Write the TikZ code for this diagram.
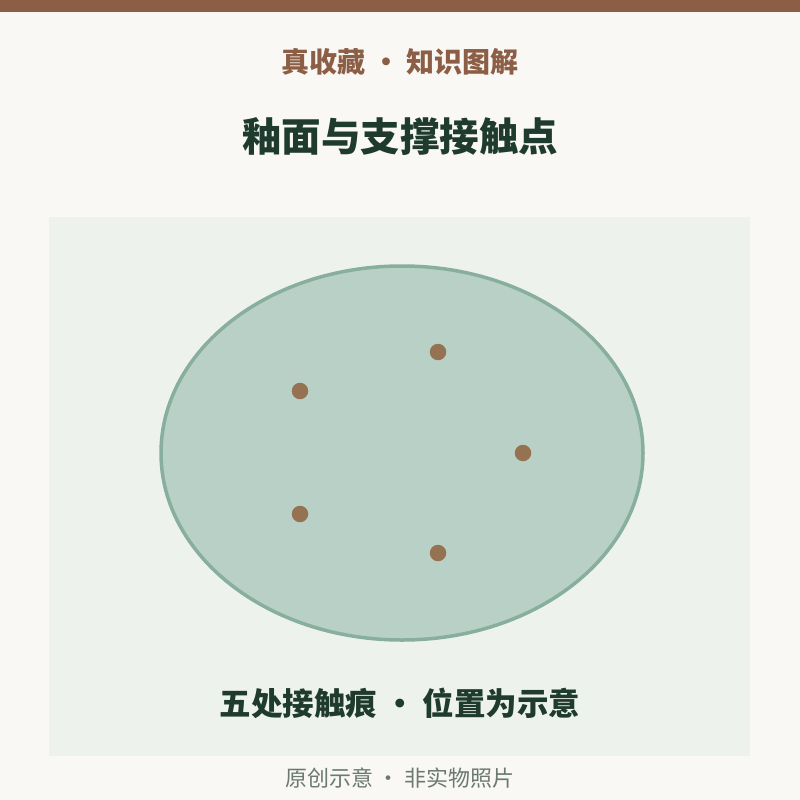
\documentclass[tikz,border=0pt]{standalone}
\usepackage{fontspec}
\newfontfamily\cjk{Noto Sans CJK SC}
\definecolor{bg}{HTML}{F9F8F4}
\definecolor{topbar}{HTML}{8B5E45}
\definecolor{panel}{HTML}{EDF2EC}
\definecolor{glazefill}{HTML}{B9D0C6}
\definecolor{glazeline}{HTML}{88AE9F}
\definecolor{dotc}{HTML}{957251}
\definecolor{darkgreen}{HTML}{1F3A2E}
\definecolor{brownt}{HTML}{8B5E45}
\definecolor{greyt}{HTML}{6B7A70}
\tikzset{
  contact/.style={circle,fill=dotc,inner sep=0pt,minimum size=16.5pt},
  txt/.style={font=\cjk,inner sep=0pt,anchor=center}
}
\begin{document}
\begin{tikzpicture}[x=1pt,y=-1pt]
\fill[bg] (0,0) rectangle (800,800);
\useasboundingbox (0,0) rectangle (800,800);
\fill[topbar] (0,0) rectangle (800,12);
\fill[panel] (49,217) rectangle (750,756);
\node[txt,text=brownt,font=\cjk\bfseries\fontsize{28}{32}\selectfont] (sub) at (400,62) {真收藏 · 知识图解};
\node[txt,text=darkgreen,font=\cjk\bfseries\fontsize{39.5}{46}\selectfont] (title) at (400,137) {釉面与支撑接触点};
\draw[glazeline,fill=glazefill,line width=3.5pt] (402,453) ellipse [x radius=241, y radius=187];
\node[contact] (p1) at (438,352) {};
\node[contact] (p2) at (300,391) {};
\node[contact] (p3) at (523,453) {};
\node[contact] (p4) at (300,514) {};
\node[contact] (p5) at (438,553) {};
\node[txt,text=darkgreen,font=\cjk\bfseries\fontsize{31.5}{38}\selectfont] (lab) at (400,703) {五处接触痕 · 位置为示意};
\node[txt,text=greyt,font=\cjk\fontsize{22}{26}\selectfont] (foot) at (400,778) {原创示意 · 非实物照片};
\end{tikzpicture}
\end{document}
